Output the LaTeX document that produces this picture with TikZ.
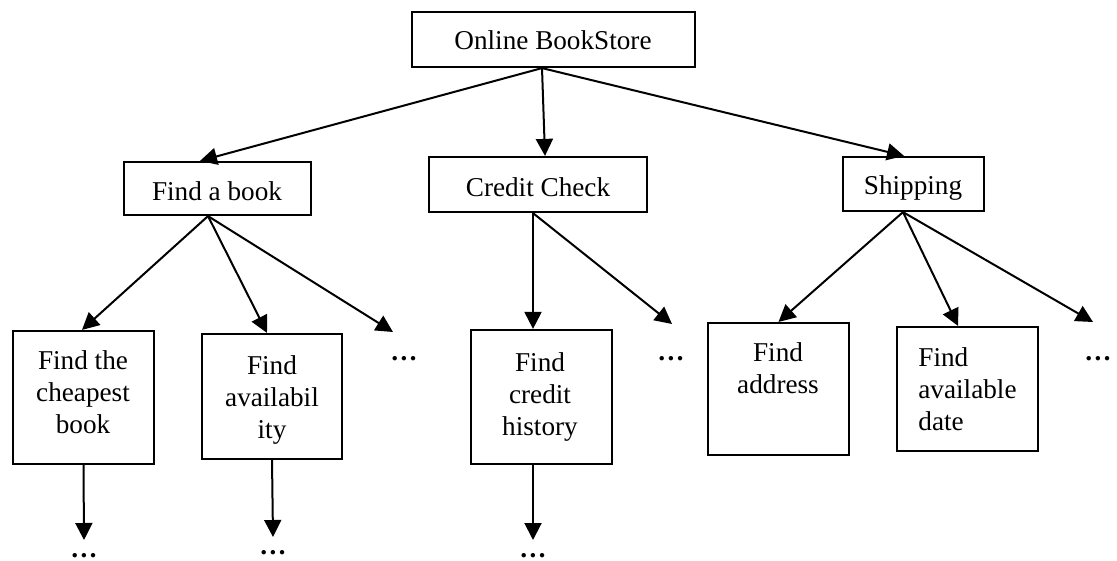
\documentclass[tikz,border=0pt]{standalone}
\usepackage{fontspec}
\setmainfont{Liberation Serif}
\usetikzlibrary{arrows.meta}
\begin{document}
\begin{tikzpicture}[x=0.5pt,y=-0.5pt,
  every node/.style={font=\fontsize{13.6}{16}\selectfont},
  box/.style={draw, line width=1.1pt, inner sep=0pt},
  lbl/.style={anchor=base, align=center, inner sep=0pt},
  more/.style={anchor=base, inner sep=0pt, font=\fontsize{13.6}{16}\selectfont\bfseries},
  conn/.style={line width=1pt, -{Triangle[length=8.5pt,width=8.5pt]}}]
\useasboundingbox[fill=white] (0,0) rectangle (1117,561);

% boxes
\node[box, minimum width=141.5pt, minimum height=27.5pt] (top)      at (553.5,39.5) {};
\node[box, minimum width=93.5pt,  minimum height=26.5pt] (findbook) at (217.5,188.5) {};
\node[box, minimum width=109pt,   minimum height=27.5pt] (credit)   at (538,184.5) {};
\node[box, minimum width=70.5pt,  minimum height=27pt]   (shipping) at (913.5,184) {};
\node[box, minimum width=70.5pt,  minimum height=66.5pt] (cheap)    at (83.5,397.5) {};
\node[box, minimum width=70pt,    minimum height=62.5pt] (avail)    at (272,396.5) {};
\node[box, minimum width=70.5pt,  minimum height=67pt]   (credhist) at (541.5,397) {};
\node[box, minimum width=70.5pt,  minimum height=66pt]   (addr)     at (778.5,389) {};
\node[box, minimum width=70.5pt,  minimum height=62pt]   (date)     at (967.5,389) {};

% texts
\node[lbl] (ttop)      at (553,50)  {Online BookStore};
\node[lbl] (tfindbook) at (217,200) {Find a book};
\node[lbl] (tcredit)   at (538,197) {Credit Check};
\node[lbl] (tshipping) at (913,195) {Shipping};
\node[lbl] (tcheap)    at (83,433)  {Find the\\cheapest\\book};
\node[lbl] (tavail)    at (272,438) {Find\\availabil\\ity};
\node[lbl] (tcredhist) at (540,435) {Find\\credit\\history};
\node[lbl] (taddr)     at (778,393) {Find\\address};
\node[lbl, anchor=base west, align=left] (tdate) at (918,430) {Find\\available\\date};

% continuation marks
\node[more] (d1) at (404,360) {…};
\node[more] (d2) at (671,360) {…};
\node[more] (d3) at (1098,360) {…};
\node[more] (d4) at (84,557)  {…};
\node[more] (d5) at (273,554) {…};
\node[more] (d6) at (533,557) {…};
\coordinate (d1in) at (393,332);
\coordinate (d2in) at (672,324);
\coordinate (d3in) at (1093,322);
\coordinate (d4in) at (84,540);
\coordinate (d5in) at (273,537);
\coordinate (d6in) at (533,540);

% connectors
\draw[conn] ([xshift=-5.75pt]top.south) -- ([xshift=-8.75pt]findbook.north);
\draw[conn] ([xshift=-5.75pt]top.south) -- ([xshift=3.5pt]credit.north);
\draw[conn] ([xshift=-5.75pt]top.south) -- ([xshift=-4.75pt]shipping.north);

\draw[conn] ([xshift=-4.75pt]findbook.south) -- ([xshift=-0.75pt]cheap.north);
\draw[conn] ([xshift=-4.75pt]findbook.south) -- ([xshift=-2.5pt]avail.north);
\draw[conn] ([xshift=-4.75pt]findbook.south) -- (d1in);

\draw[conn] ([xshift=-2.5pt]credit.south) -- ([xshift=-4.25pt]credhist.north);
\draw[conn] ([xshift=-2.5pt]credit.south) -- (d2in);

\draw[conn] ([xshift=-5.25pt]shipping.south) -- (addr.north);
\draw[conn] ([xshift=-5.25pt]shipping.south) -- ([xshift=-4.75pt]date.north);
\draw[conn] ([xshift=-5.25pt]shipping.south) -- (d3in);

\draw[conn] (cheap.south) -- (d4in);
\draw[conn] (avail.south) -- (d5in);
\draw[conn] ([xshift=-4.25pt]credhist.south) -- (d6in);
\end{tikzpicture}
\end{document}
